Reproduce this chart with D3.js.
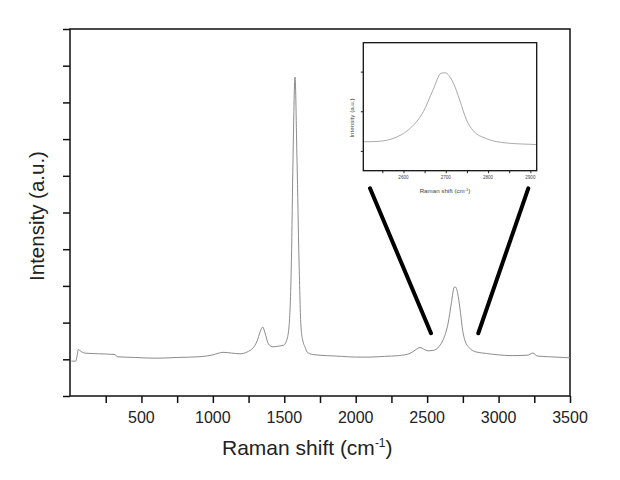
<!DOCTYPE html>
<html>
<head>
<meta charset="utf-8">
<script src="https://cdn.jsdelivr.net/npm/d3@7"></script>
<style>
  html, body { margin: 0; padding: 0; background: #fff; overflow: hidden; }
  svg { display: block; }
  text { font-family: "Liberation Sans", Arial, sans-serif; }
</style>
</head>
<body>
<svg width="620" height="480"></svg>
<script>
// spectrum (Raman shift in cm-1, intensity in a.u.)
const ramanShift = [
  10, 40, 50, 58, 75, 100, 140, 200, 315, 330, 450, 610, 750, 910, 1000,
  1071, 1130, 1190, 1240, 1281, 1310, 1330, 1349, 1365, 1385, 1405, 1421,
  1460, 1493, 1515, 1533, 1550, 1561, 1575, 1589, 1603, 1617, 1630, 1645,
  1659, 1700, 1800, 1900, 2000, 2100, 2200, 2300, 2380, 2420, 2450, 2480,
  2506, 2540, 2584, 2616, 2647, 2670, 2689, 2698, 2718, 2733, 2749, 2764,
  2796, 2843, 2914, 3000, 3100, 3200, 3241, 3270, 3350, 3450, 3500
]
const intensity = [
  0.95, 0.95, 1.10, 1.27, 1.22, 1.17, 1.16, 1.15, 1.13, 1.07, 1.05, 1.03, 1.05, 1.07, 1.12,
  1.19, 1.17, 1.15, 1.20, 1.31, 1.50, 1.74, 1.88, 1.72, 1.45, 1.36, 1.34,
  1.36, 1.38, 1.50, 1.88, 3.71, 6.43, 8.69, 6.43, 3.71, 1.88, 1.50, 1.34,
  1.20, 1.13, 1.10, 1.08, 1.06, 1.06, 1.08, 1.10, 1.16, 1.26, 1.32, 1.27,
  1.23, 1.24, 1.35, 1.57, 1.99, 2.54, 2.96, 2.97, 2.71, 2.28, 1.78, 1.52,
  1.31, 1.20, 1.16, 1.12, 1.10, 1.11, 1.17, 1.09, 1.07, 1.05, 1.04
]

const xTicks = [250, 500, 750, 1000, 1250, 1500, 1750, 2000, 2250, 2500, 2750, 3000, 3250, 3500]
const xTickLabels = [500, 1000, 1500, 2000, 2500, 3000, 3500]
const yTicks = [0, 1, 2, 3, 4, 5, 6, 7, 8, 9, 10]
const insetXTicks = [2550, 2600, 2650, 2700, 2750, 2800, 2850, 2900]
const insetXTickLabels = [2600, 2700, 2800, 2900]
const insetYTicks = [1, 2, 3]

// pointer lines from the inset down to the 2D band: [shift, intensity] ends
const pointers = [
  [[2100, 5.66], [2527, 1.71]],
  [[3208, 5.66], [2858, 1.71]]
]

const data = ramanShift.map((x, i) => ({ x, y: intensity[i] }))

const svg = d3.select('svg')
const width = +svg.attr('width')
const height = +svg.attr('height')
const margin = { top: 29, right: 50, bottom: 84, left: 70 }
const innerWidth = width - margin.left - margin.right
const innerHeight = height - margin.top - margin.bottom

const xScale = d3.scaleLinear().domain([0, 3500]).range([0, innerWidth])
const yScale = d3.scaleLinear().domain([0, 10]).range([innerHeight, 0])

const g = svg.append('g')
  .attr('transform', `translate(${margin.left}, ${margin.top})`)

// axes give the tick marks only, the labels are drawn below
const xAxisG = g.append('g')
  .attr('transform', `translate(0, ${innerHeight})`)
  .call(d3.axisBottom(xScale).tickValues(xTicks).tickSize(7))
xAxisG.select('.domain').remove()
xAxisG.selectAll('text').remove()
xAxisG.selectAll('line').attr('stroke', '#111').attr('stroke-width', 1.5)

const yAxisG = g.append('g')
  .call(d3.axisLeft(yScale).tickValues(yTicks).tickSize(7))
yAxisG.select('.domain').remove()
yAxisG.selectAll('text').remove()
yAxisG.selectAll('line').attr('stroke', '#111').attr('stroke-width', 1.5)

g.selectAll('.x-label').data(xTickLabels)
  .enter().append('text')
  .attr('class', 'x-label')
  .attr('x', d => xScale(d))
  .attr('y', innerHeight + 27)
  .attr('text-anchor', 'middle')
  .style('font-size', '16px')
  .attr('fill', '#222')
  .text(d => d)

g.append('rect')
  .attr('width', innerWidth)
  .attr('height', innerHeight)
  .attr('fill', 'none')
  .attr('stroke', '#111')
  .attr('stroke-width', 1.5)

const line = d3.line()
  .x(d => xScale(d.x))
  .y(d => yScale(d.y))
  .curve(d3.curveMonotoneX)

g.append('path')
  .datum(data)
  .attr('d', line)
  .attr('fill', 'none')
  .attr('stroke', '#8c8c8c')
  .attr('stroke-width', 1)

g.selectAll('.pointer').data(pointers)
  .enter().append('line')
  .attr('class', 'pointer')
  .attr('x1', d => xScale(d[0][0]))
  .attr('y1', d => yScale(d[0][1]))
  .attr('x2', d => xScale(d[1][0]))
  .attr('y2', d => yScale(d[1][1]))
  .attr('stroke', '#000')
  .attr('stroke-width', 4)
  .attr('stroke-linecap', 'round')

// axis titles
svg.append('text')
  .attr('x', 222)
  .attr('y', 455)
  .style('font-size', '21px')
  .attr('fill', '#222')
  .text('Raman shift (cm')
  .call(t => t.append('tspan').attr('dy', -8).style('font-size', '12px').text('-1'))
  .call(t => t.append('tspan').attr('dy', 8).text(')'))

svg.append('text')
  .attr('transform', 'translate(44, 216) rotate(-90)')
  .attr('text-anchor', 'middle')
  .style('font-size', '20.5px')
  .attr('fill', '#222')
  .text('Intensity (a.u.)')

// inset: zoom on the 2D band
const inset = { left: 363.3, top: 42.7, width: 173.4, height: 128 }
const ix = d3.scaleLinear().domain([2505, 2915]).range([0, inset.width])
const iy = d3.scaleLinear().domain([0.5, 3.73]).range([inset.height, 0])

const ig = svg.append('g')
  .attr('transform', `translate(${inset.left}, ${inset.top})`)

ig.append('defs').append('clipPath').attr('id', 'inset-clip')
  .append('rect').attr('width', inset.width).attr('height', inset.height)

const ixAxisG = ig.append('g')
  .attr('transform', `translate(0, ${inset.height})`)
  .call(d3.axisBottom(ix).tickValues(insetXTicks).tickSize(2.5))
ixAxisG.select('.domain').remove()
ixAxisG.selectAll('text').remove()
ixAxisG.selectAll('line').attr('stroke', '#222')

const iyAxisG = ig.append('g')
  .call(d3.axisLeft(iy).tickValues(insetYTicks).tickSize(2.5))
iyAxisG.select('.domain').remove()
iyAxisG.selectAll('text').remove()
iyAxisG.selectAll('line').attr('stroke', '#222')

ig.selectAll('.ix-label').data(insetXTickLabels)
  .enter().append('text')
  .attr('class', 'ix-label')
  .attr('x', d => ix(d))
  .attr('y', inset.height + 8)
  .attr('text-anchor', 'middle')
  .style('font-size', '4.6px')
  .attr('fill', '#444')
  .text(d => d)

ig.append('path')
  .datum(data)
  .attr('clip-path', 'url(#inset-clip)')
  .attr('d', d3.line().x(d => ix(d.x)).y(d => iy(d.y)).curve(d3.curveMonotoneX))
  .attr('fill', 'none')
  .attr('stroke', '#a0a0a0')
  .attr('stroke-width', 0.9)

ig.append('rect')
  .attr('width', inset.width)
  .attr('height', inset.height)
  .attr('fill', 'none')
  .attr('stroke', '#111')
  .attr('stroke-width', 1.3)

svg.append('text')
  .attr('x', 445)
  .attr('y', 193)
  .attr('text-anchor', 'middle')
  .style('font-size', '6.2px')
  .attr('fill', '#444')
  .text('Raman shift (cm')
  .call(t => t.append('tspan').attr('dy', -2.5).style('font-size', '4px').text('-1'))
  .call(t => t.append('tspan').attr('dy', 2.5).text(')'))

svg.append('text')
  .attr('transform', 'translate(354, 118) rotate(-90)')
  .attr('text-anchor', 'middle')
  .style('font-size', '6.2px')
  .attr('fill', '#444')
  .text('Intensity (a.u.)')
</script>
</body>
</html>
